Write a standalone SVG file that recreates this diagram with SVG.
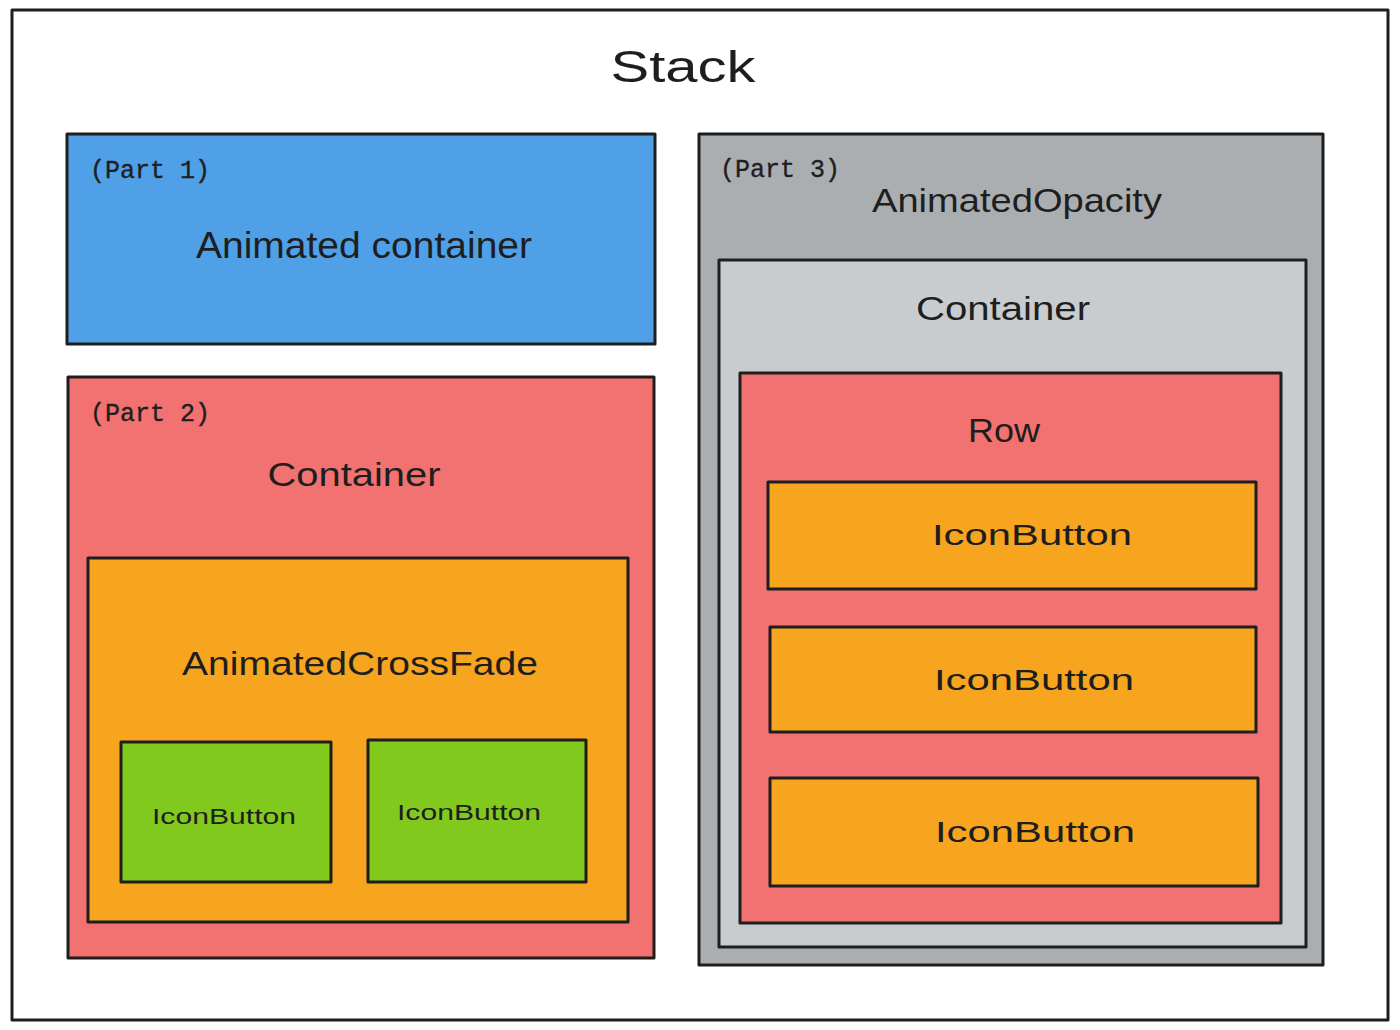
<svg xmlns="http://www.w3.org/2000/svg" width="1400" height="1030" viewBox="0 0 1400 1030">
<style>
.box{stroke:#1e1e1e;stroke-width:3;stroke-linejoin:round}
.hand{font-family:"Liberation Sans","DejaVu Sans",sans-serif;fill:#1e1e1e;text-anchor:middle}
.mono{font-family:"Liberation Mono","DejaVu Sans Mono",monospace;fill:#1e1e1e;font-size:26px;stroke:#1e1e1e;stroke-width:0.4}
</style>
<rect width="1400" height="1030" fill="#ffffff"/>
<g id="stack">
<rect class="box" x="12" y="10" width="1376" height="1010" fill="#ffffff" stroke-width="2.5"/>
<text class="hand" x="683" y="82" font-size="44" textLength="145" lengthAdjust="spacingAndGlyphs">Stack</text>
</g>
<g id="part1">
<rect class="box" x="67" y="134" width="588" height="210" fill="#4fa0e7"/>
<text class="mono" x="90" y="178" textLength="120" lengthAdjust="spacingAndGlyphs">(Part 1)</text>
<text class="hand" x="364" y="258" font-size="36" textLength="336" lengthAdjust="spacingAndGlyphs">Animated container</text>
</g>
<g id="part2">
<rect class="box" x="68" y="377" width="586" height="581" fill="#f27171"/>
<text class="mono" x="90" y="421" textLength="120" lengthAdjust="spacingAndGlyphs">(Part 2)</text>
<text class="hand" x="354" y="486" font-size="34" textLength="173" lengthAdjust="spacingAndGlyphs">Container</text>
</g>
<g id="crossfade">
<rect class="box" x="88" y="558" width="540" height="364" fill="#f7a41e"/>
<text class="hand" x="360" y="675" font-size="34" textLength="356" lengthAdjust="spacingAndGlyphs">AnimatedCrossFade</text>
</g>
<g id="iconbutton-green-1">
<rect class="box" x="121" y="742" width="210" height="140" fill="#82c91e"/>
<text class="hand" x="224" y="824" font-size="22" textLength="144" lengthAdjust="spacingAndGlyphs">IconButton</text>
</g>
<g id="iconbutton-green-2">
<rect class="box" x="368" y="740" width="218" height="142" fill="#82c91e"/>
<text class="hand" x="469" y="820" font-size="22" textLength="144" lengthAdjust="spacingAndGlyphs">IconButton</text>
</g>
<g id="part3">
<rect class="box" x="699" y="134" width="624" height="831" fill="#abaeb1"/>
<text class="mono" x="720" y="177" textLength="120" lengthAdjust="spacingAndGlyphs">(Part 3)</text>
<text class="hand" x="1017" y="212" font-size="34" textLength="290" lengthAdjust="spacingAndGlyphs">AnimatedOpacity</text>
</g>
<g id="container3">
<rect class="box" x="719" y="260" width="587" height="687" fill="#c9ccce"/>
<text class="hand" x="1003" y="320" font-size="34" textLength="174" lengthAdjust="spacingAndGlyphs">Container</text>
</g>
<g id="row">
<rect class="box" x="740" y="373" width="541" height="550" fill="#f27171"/>
<text class="hand" x="1004" y="442" font-size="34" textLength="72" lengthAdjust="spacingAndGlyphs">Row</text>
</g>
<g id="iconbutton-orange-1">
<rect class="box" x="768" y="482" width="488" height="107" fill="#f7a41e"/>
<text class="hand" x="1032" y="545" font-size="30" textLength="200" lengthAdjust="spacingAndGlyphs">IconButton</text>
</g>
<g id="iconbutton-orange-2">
<rect class="box" x="770" y="627" width="486" height="105" fill="#f7a41e"/>
<text class="hand" x="1034" y="690" font-size="30" textLength="200" lengthAdjust="spacingAndGlyphs">IconButton</text>
</g>
<g id="iconbutton-orange-3">
<rect class="box" x="770" y="778" width="488" height="108" fill="#f7a41e"/>
<text class="hand" x="1035" y="842" font-size="30" textLength="200" lengthAdjust="spacingAndGlyphs">IconButton</text>
</g>
<g id="connectors"/>
</svg>
